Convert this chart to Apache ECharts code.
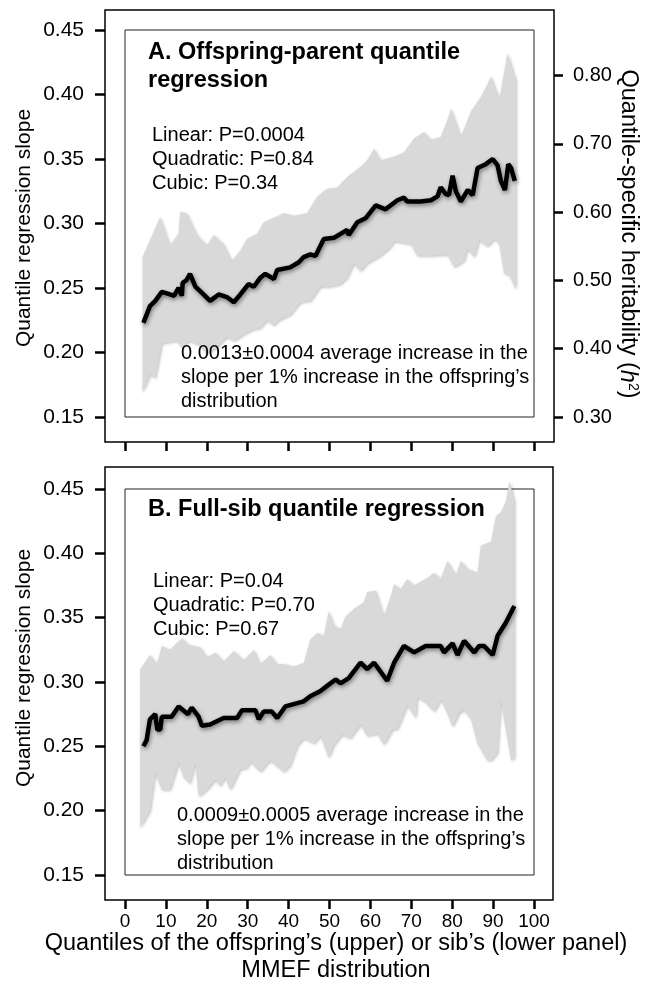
<!DOCTYPE html>
<html>
<head>
<meta charset="utf-8">
<script src="https://cdn.jsdelivr.net/npm/echarts@6/dist/echarts.min.js"></script>
<style>
  html, body { margin: 0; padding: 0; background: #fff; }
  #main { width: 652px; height: 991px; }
</style>
</head>
<body>
<div id="main"></div>
<script>
// x ticks (quantiles, %)
var xTicks = [0, 10, 20, 30, 40, 50, 60, 70, 80, 90, 100]
// left axis: quantile regression slope
var slopeTicks = [0.15, 0.20, 0.25, 0.30, 0.35, 0.40, 0.45]
// right axis (upper panel only): quantile-specific heritability
var h2Ticks = [0.30, 0.40, 0.50, 0.60, 0.70, 0.80]

// A. offspring-parent, [quantile, slope]
var parentLine = [[4.5,0.223],[6.1,0.236],[7.4,0.240],[9.0,0.247],[11.0,0.245],[12.0,0.244],[13.1,0.250],[13.9,0.244],[14.1,0.254],[15.0,0.256],[15.9,0.261],[17.2,0.251],[19.2,0.245],[20.8,0.240],[22.9,0.245],[24.9,0.243],[26.6,0.239],[28.2,0.245],[30.2,0.253],[31.5,0.251],[33.1,0.258],[34.3,0.261],[36.4,0.257],[37.2,0.264],[40.4,0.266],[42.5,0.270],[43.7,0.274],[45.3,0.276],[46.6,0.275],[48.6,0.288],[51.1,0.289],[52.7,0.292],[54.3,0.295],[54.7,0.291],[56.8,0.301],[58.8,0.304],[61.3,0.314],[63.7,0.311],[66.6,0.318],[68.2,0.320],[69.0,0.317],[72.3,0.317],[74.8,0.318],[76.4,0.321],[77.2,0.328],[78.4,0.323],[79.2,0.322],[80.1,0.337],[80.9,0.325],[82.1,0.317],[83.8,0.326],[85.0,0.322],[86.2,0.343],[88.2,0.346],[89.9,0.350],[91.1,0.345],[91.9,0.333],[92.9,0.326],[93.7,0.346],[94.4,0.343],[95.3,0.333]]
var parentUpper = [[4.3,0.274],[8.6,0.305],[11.0,0.283],[13.1,0.292],[13.5,0.309],[15.1,0.308],[17.6,0.291],[20.0,0.283],[21.7,0.291],[24.1,0.284],[26.1,0.271],[28.2,0.279],[29.8,0.288],[32.3,0.292],[33.9,0.301],[38.8,0.308],[41.3,0.306],[44.5,0.308],[47.0,0.321],[49.4,0.327],[51.9,0.328],[54.3,0.336],[57.6,0.344],[59.2,0.349],[60.9,0.358],[62.5,0.349],[65.8,0.352],[68.2,0.355],[70.7,0.366],[73.1,0.371],[74.8,0.365],[77.2,0.367],[78.8,0.380],[79.7,0.389],[82.1,0.367],[84.6,0.387],[87.0,0.398],[88.6,0.408],[89.5,0.414],[91.5,0.396],[91.9,0.403],[93.5,0.432],[95.6,0.411]]
var parentLower = [[4.3,0.169],[6.1,0.183],[7.4,0.180],[9.0,0.207],[12.7,0.209],[13.9,0.204],[15.9,0.209],[18.4,0.205],[20.0,0.199],[22.5,0.204],[24.9,0.212],[26.6,0.209],[29.0,0.214],[31.5,0.218],[33.1,0.219],[34.7,0.225],[36.4,0.221],[37.6,0.225],[40.4,0.229],[42.9,0.239],[45.3,0.240],[47.8,0.251],[50.2,0.251],[52.7,0.253],[54.3,0.258],[56.0,0.269],[57.6,0.263],[59.2,0.269],[62.5,0.275],[65.0,0.282],[65.8,0.286],[69.9,0.284],[71.5,0.275],[75.6,0.275],[78.8,0.276],[80.5,0.266],[82.9,0.271],[83.7,0.280],[85.4,0.274],[86.6,0.287],[88.6,0.282],[90.3,0.288],[91.5,0.284],[92.7,0.261],[93.9,0.260],[95.6,0.249]]

// B. full-sib, [quantile, slope]
var sibLine = [[4.5,0.250],[5.3,0.255],[6.1,0.271],[7.4,0.275],[7.9,0.263],[8.6,0.263],[9.0,0.273],[11.4,0.273],[13.1,0.281],[15.4,0.275],[16.3,0.280],[18.0,0.273],[18.8,0.266],[20.8,0.267],[24.1,0.272],[27.4,0.272],[28.6,0.278],[31.9,0.278],[32.7,0.271],[33.9,0.277],[35.9,0.277],[37.2,0.272],[39.2,0.281],[43.7,0.285],[45.3,0.289],[47.8,0.293],[49.4,0.297],[51.5,0.302],[52.7,0.299],[54.7,0.303],[57.6,0.315],[59.2,0.310],[60.9,0.315],[64.1,0.301],[65.8,0.315],[68.2,0.328],[70.7,0.323],[73.5,0.328],[77.2,0.328],[78.0,0.323],[80.1,0.330],[81.3,0.321],[82.9,0.332],[85.4,0.323],[86.6,0.328],[87.8,0.328],[89.9,0.321],[91.1,0.336],[93.1,0.346],[95.2,0.359]]
var sibUpper = [[3.7,0.310],[6.1,0.321],[7.8,0.314],[9.0,0.328],[11.0,0.325],[13.9,0.334],[15.5,0.329],[18.4,0.327],[20.0,0.319],[22.1,0.323],[24.1,0.316],[26.6,0.324],[29.0,0.317],[31.5,0.325],[33.1,0.314],[35.5,0.321],[37.2,0.314],[38.8,0.314],[41.3,0.312],[43.7,0.315],[45.3,0.333],[47.0,0.338],[48.6,0.336],[49.8,0.355],[51.1,0.344],[52.7,0.341],[53.9,0.351],[56.0,0.357],[58.4,0.362],[59.2,0.370],[61.3,0.371],[63.3,0.351],[65.0,0.367],[65.8,0.376],[67.4,0.372],[69.0,0.380],[70.6,0.375],[73.5,0.380],[75.6,0.385],[77.2,0.380],[78.8,0.394],[80.9,0.383],[82.1,0.394],[83.7,0.388],[86.2,0.385],[87.0,0.406],[89.5,0.409],[90.7,0.429],[91.9,0.432],[93.1,0.440],[94.0,0.456],[95.2,0.441]]
var sibLower = [[3.7,0.187],[6.1,0.200],[7.4,0.229],[9.0,0.216],[11.0,0.216],[13.1,0.237],[14.3,0.226],[15.9,0.221],[17.2,0.237],[18.0,0.211],[20.0,0.216],[22.1,0.224],[23.3,0.219],[24.5,0.226],[25.7,0.216],[28.2,0.232],[29.8,0.233],[30.6,0.238],[33.1,0.230],[35.5,0.239],[38.8,0.230],[40.4,0.235],[42.1,0.250],[43.7,0.256],[46.2,0.252],[47.8,0.258],[49.8,0.241],[51.1,0.251],[53.1,0.259],[55.1,0.256],[57.6,0.267],[59.2,0.258],[61.7,0.260],[63.3,0.251],[65.4,0.263],[66.6,0.263],[69.0,0.282],[71.1,0.272],[71.5,0.288],[73.5,0.284],[75.6,0.277],[77.2,0.286],[78.8,0.276],[80.1,0.265],[81.7,0.276],[82.9,0.278],[84.6,0.271],[86.2,0.252],[88.6,0.239],[89.5,0.239],[91.1,0.245],[91.9,0.286],[93.1,0.263],[94.4,0.239],[95.2,0.241]]

var FONT = 'Liberation Sans, Arial, sans-serif'

const myCharts = echarts.init(document.getElementById('main'), null, { renderer: 'canvas' })

function bandSeries(upper, lower, idx) {
  return {
    type: 'custom',
    xAxisIndex: idx,
    yAxisIndex: idx === 0 ? 0 : 2,
    silent: true,
    z: 1,
    data: [[50, 0.3]],
    renderItem: function (params, api) {
      var pts = upper.map(function (p) { return api.coord(p) })
      var back = lower.slice().reverse().map(function (p) { return api.coord(p) })
      return {
        type: 'polygon',
        shape: { points: pts.concat(back) },
        style: {
          fill: '#d9d9d9',
          shadowBlur: 3,
          shadowColor: 'rgba(0,0,0,0.25)',
          shadowOffsetX: 1,
          shadowOffsetY: 1
        }
      }
    }
  }
}

function lineSeries(data, idx) {
  return {
    type: 'line',
    xAxisIndex: idx,
    yAxisIndex: idx === 0 ? 0 : 2,
    data: data,
    showSymbol: false,
    silent: true,
    z: 3,
    lineStyle: {
      color: '#000',
      width: 4.5,
      shadowBlur: 4,
      shadowColor: 'rgba(0,0,0,0.45)',
      shadowOffsetX: 1,
      shadowOffsetY: 2
    }
  }
}

function xAxis(gridIndex, withLabels) {
  return {
    type: 'value',
    gridIndex: gridIndex,
    min: xTicks[0],
    max: xTicks[xTicks.length - 1],
    interval: 10,
    offset: 25,
    axisLine: { show: false, onZero: false },
    axisTick: { show: true, length: 9, lineStyle: { color: '#000', width: 2.5 } },
    axisLabel: {
      show: withLabels,
      margin: 12,
      color: '#000',
      fontFamily: FONT,
      fontSize: 19
    },
    splitLine: { show: false }
  }
}

function slopeAxis(gridIndex) {
  return {
    type: 'value',
    gridIndex: gridIndex,
    position: 'left',
    min: slopeTicks[0],
    max: slopeTicks[slopeTicks.length - 1],
    interval: 0.05,
    offset: 20,
    axisLine: { show: false, onZero: false },
    axisTick: { show: true, length: 10, lineStyle: { color: '#000', width: 2.5 } },
    axisLabel: {
      margin: 21,
      color: '#000',
      fontFamily: FONT,
      fontSize: 21,
      formatter: function (v) { return v.toFixed(2) }
    },
    splitLine: { show: false }
  }
}

function textBlock(x, yFirst, lines, size, bold, lh) {
  return {
    type: 'text',
    x: x,
    y: yFirst - lh / 2,
    z: 10,
    style: {
      text: lines.join('\n'),
      fill: '#000',
      font: (bold ? 'bold ' : '') + size + 'px ' + FONT,
      lineHeight: lh,
      align: 'left',
      verticalAlign: 'top'
    }
  }
}

function sideTitle(x, y, rot, text, size, rich) {
  return {
    type: 'text', x: x, y: y, rotation: rot, z: 10,
    style: {
      text: text,
      fill: '#000',
      font: size + 'px ' + FONT,
      align: 'center',
      verticalAlign: 'middle',
      rich: rich
    }
  }
}

/** @type EChartsOption */
const option = {
  backgroundColor: '#fff',
  animation: false,
  grid: [
    { left: 125, right: 118, top: 30, height: 387, show: true, borderColor: '#222', borderWidth: 1, backgroundColor: 'transparent' },
    { left: 125, right: 118, top: 489, height: 386, show: true, borderColor: '#222', borderWidth: 1, backgroundColor: 'transparent' }
  ],
  xAxis: [xAxis(0, false), xAxis(1, true)],
  yAxis: [
    slopeAxis(0),
    {
      type: 'value',
      gridIndex: 0,
      position: 'right',
      min: 0.30,
      max: 0.867,
      offset: 20,
      axisLine: { show: false, onZero: false },
      axisTick: { show: true, length: 9, lineStyle: { color: '#000', width: 2.5 }, customValues: h2Ticks },
      axisLabel: {
        margin: 19,
        color: '#000',
        fontFamily: FONT,
        fontSize: 20,
        customValues: h2Ticks,
        formatter: function (v) { return v.toFixed(2) }
      },
      splitLine: { show: false }
    },
    slopeAxis(1)
  ],
  graphic: [
    { type: 'rect', z: 5, shape: { x: 105, y: 10, width: 449, height: 432 }, style: { fill: 'none', stroke: '#000', lineWidth: 1.5 } },
    { type: 'rect', z: 5, shape: { x: 105, y: 467, width: 448, height: 433 }, style: { fill: 'none', stroke: '#000', lineWidth: 1.5 } },

    textBlock(148, 53, ['A. Offspring-parent quantile', 'regression'], 23.5, true, 28),
    textBlock(152, 135, ['Linear: P=0.0004', 'Quadratic: P=0.84', 'Cubic: P=0.34'], 20, false, 24),
    textBlock(181, 353, ['0.0013\u00b10.0004 average increase in the', 'slope per 1% increase in the offspring\u2019s', 'distribution'], 20, false, 24),

    textBlock(148, 510, ['B. Full-sib quantile regression'], 23.5, true, 28),
    textBlock(153, 581, ['Linear: P=0.04', 'Quadratic: P=0.70', 'Cubic: P=0.67'], 20, false, 24),
    textBlock(177, 815, ['0.0009\u00b10.0005 average increase in the', 'slope per 1% increase in the offspring\u2019s', 'distribution'], 20, false, 24),

    sideTitle(24, 228, Math.PI / 2, 'Quantile regression slope', 21),
    sideTitle(24, 668, Math.PI / 2, 'Quantile regression slope', 21),
    sideTitle(628, 234, -Math.PI / 2, 'Quantile-specific heritability ({i|h}{s|2})', 23.5, {
      i: { fontStyle: 'italic', fontSize: 23.5, fontFamily: FONT },
      s: { fontSize: 14, fontFamily: FONT, verticalAlign: 'top', lineHeight: 14 }
    }),
    {
      type: 'text', x: 336, y: 930, z: 10,
      style: {
        text: 'Quantiles of the offspring\u2019s (upper) or sib\u2019s (lower panel)\nMMEF distribution',
        fill: '#000',
        font: '23.5px ' + FONT,
        align: 'center',
        verticalAlign: 'top',
        lineHeight: 27
      }
    }
  ],
  series: [
    bandSeries(parentUpper, parentLower, 0),
    lineSeries(parentLine, 0),
    bandSeries(sibUpper, sibLower, 1),
    lineSeries(sibLine, 1)
  ]
}
myCharts.setOption(option)
</script>
</body>
</html>
